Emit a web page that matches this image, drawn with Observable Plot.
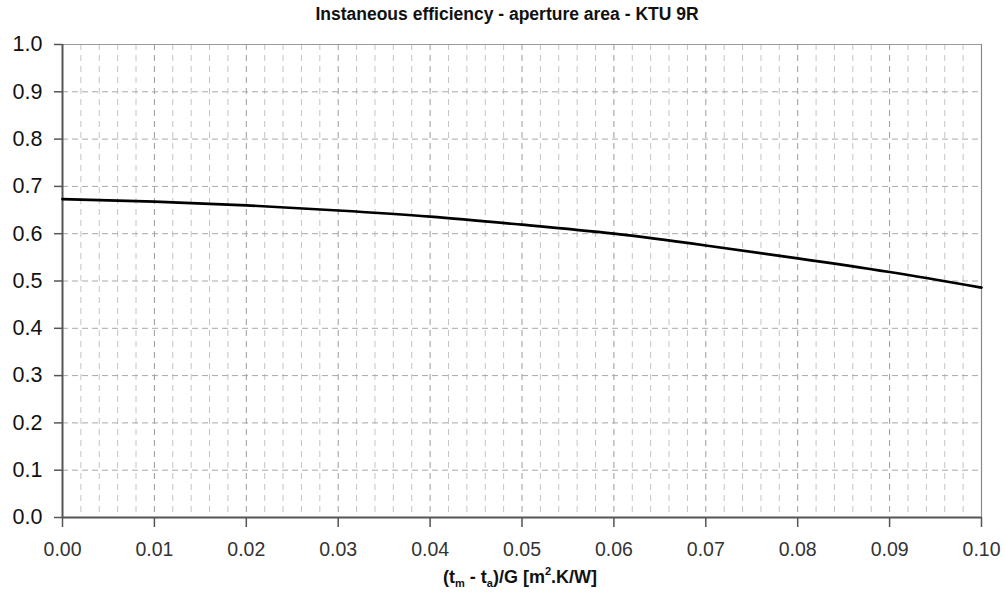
<!DOCTYPE html>
<html>
<head>
<meta charset="utf-8">
<script src="https://cdn.jsdelivr.net/npm/d3@7"></script>
<script src="https://cdn.jsdelivr.net/npm/@observablehq/plot@0.6"></script>
<style>
  html, body { margin: 0; padding: 0; background: #fff; }
  #chart { width: 1006px; height: 594px; }
  g[aria-label="y-axis tick label"] { font-size: 21.5px; }
  g[aria-label="x-axis tick label"] { font-size: 19.5px; }
</style>
</head>
<body>
<div id="chart"></div>
<script>
// Data
const xValues    = [0.00, 0.01, 0.02, 0.03, 0.04, 0.05, 0.06, 0.07, 0.08, 0.09, 0.10];
const efficiency = [0.673, 0.668, 0.660, 0.649, 0.636, 0.619, 0.600, 0.575, 0.548, 0.519, 0.486];
const xTicks = [0.00, 0.01, 0.02, 0.03, 0.04, 0.05, 0.06, 0.07, 0.08, 0.09, 0.10];
const yTicks = [0.0, 0.1, 0.2, 0.3, 0.4, 0.5, 0.6, 0.7, 0.8, 0.9, 1.0];
const xMinorTicks = [0.002, 0.004, 0.006, 0.008, 0.012, 0.014, 0.016, 0.018, 0.022, 0.024, 0.026, 0.028,
  0.032, 0.034, 0.036, 0.038, 0.042, 0.044, 0.046, 0.048, 0.052, 0.054, 0.056, 0.058,
  0.062, 0.064, 0.066, 0.068, 0.072, 0.074, 0.076, 0.078, 0.082, 0.084, 0.086, 0.088,
  0.092, 0.094, 0.096, 0.098];
const titleText = "Instaneous efficiency - aperture area - KTU 9R";

const data = xValues.map((x, i) => ({x, y: efficiency[i]}));
const font = "'Liberation Sans', Arial, sans-serif";

const plot = Plot.plot({
  width: 1006,
  height: 594,
  marginLeft: 62,
  marginRight: 25,
  marginTop: 44,
  marginBottom: 77,
  style: {fontFamily: font, background: "#fff", overflow: "visible"},
  x: {domain: [0, 0.1]},
  y: {domain: [0, 1]},
  marks: [
    Plot.ruleX(xMinorTicks, {stroke: "#c4c4c4", strokeWidth: 1, strokeDasharray: "6,5"}),
    Plot.ruleX(xTicks.slice(1, -1), {stroke: "#9a9a9a", strokeWidth: 1, strokeDasharray: "6,5"}),
    Plot.ruleY(yTicks.slice(1, -1), {stroke: "#a8a8a8", strokeWidth: 1, strokeDasharray: "6,4"}),
    Plot.ruleY([1], {stroke: "#9a9a9a", strokeWidth: 1.2}),
    Plot.ruleX([0.1], {stroke: "#8a8a8a", strokeWidth: 1.2}),
    Plot.axisY(yTicks, {
      tickFormat: d3.format(".1f"), tickSize: 8, tickPadding: 12, fontSize: 21.5,
      fill: "#111", stroke: "#555", strokeWidth: 1.5, label: null
    }),
    Plot.axisX(xTicks, {
      tickFormat: d3.format(".2f"), tickSize: 10, tickPadding: 15, fontSize: 19.5,
      fill: "#333", stroke: "#555", strokeWidth: 1.5, label: null
    }),
    Plot.ruleX([0], {stroke: "#555", strokeWidth: 2}),
    Plot.ruleY([0], {stroke: "#555", strokeWidth: 2}),
    Plot.line(data, {x: "x", y: "y", curve: "natural", stroke: "#000", strokeWidth: 2.7})
  ]
});

const svg = d3.select(plot);
svg.append("text")
  .attr("x", 507).attr("y", 20)
  .attr("text-anchor", "middle")
  .attr("font-family", font).attr("font-size", 17.5).attr("font-weight", "bold")
  .attr("fill", "#111")
  .text(titleText);

const xl = svg.append("text")
  .attr("x", 520).attr("y", 583)
  .attr("text-anchor", "middle")
  .attr("font-family", font).attr("font-size", 18).attr("font-weight", "bold")
  .attr("fill", "#111");
xl.append("tspan").text("(t");
xl.append("tspan").attr("font-size", 11).attr("dy", 4).text("m");
xl.append("tspan").attr("dy", -4).text(" - t");
xl.append("tspan").attr("font-size", 11).attr("dy", 4).text("a");
xl.append("tspan").attr("dy", -4).text(")/G [m");
xl.append("tspan").attr("font-size", 11).attr("dy", -8).text("2");
xl.append("tspan").attr("dy", 8).text(".K/W]");

document.getElementById("chart").appendChild(plot);
</script>
</body>
</html>
